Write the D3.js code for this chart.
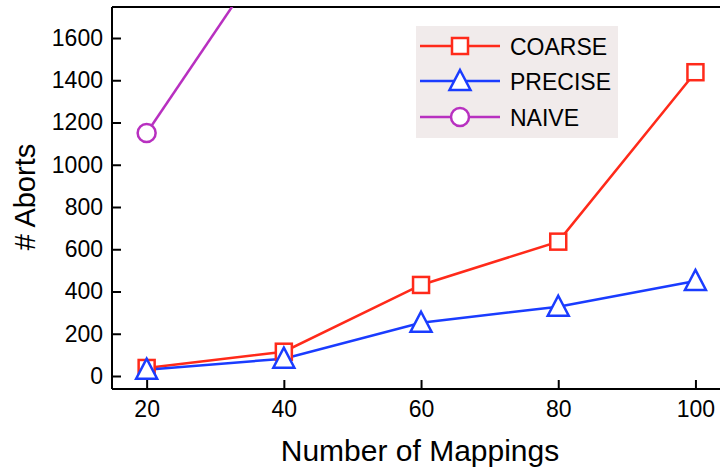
<!DOCTYPE html>
<html><head><meta charset="utf-8">
<script src="https://cdn.jsdelivr.net/npm/d3@7"></script>
<style>body{margin:0;background:#fff}svg{display:block}text{font-family:"Liberation Sans",Arial,sans-serif}</style>
</head><body>
<svg id="c" width="720" height="473"></svg>
<script>
const mappings = [20, 40, 60, 80, 100];
const coarse = [38, 115, 431, 636, 1438];
const precise = [30, 82, 252, 328, 450];
const naive = [1150, 2110];
const xTicks = [20, 40, 60, 80, 100];
const yTicks = [0, 200, 400, 600, 800, 1000, 1200, 1400, 1600];
const seriesNames = ["COARSE", "PRECISE", "NAIVE"];
const seriesColors = ["#ff2a1a", "#1a3cff", "#b830c0"];
const seriesSymbols = ["square", "triangle", "circle"];

const svg = d3.select("#c");
const L = 112, T = 7, B = 389;
const x = d3.scaleLinear().domain([14.95, 106.5]).range([L, L + (106.5-14.95)*6.86]);
const y = d3.scaleLinear().domain([0, 1600]).range([376, 38]);

svg.append("clipPath").attr("id","clip").append("rect").attr("x",L).attr("y",T).attr("width",720-L).attr("height",B-T);

svg.append("line").attr("x1",L).attr("x2",720).attr("y1",T).attr("y2",T).attr("stroke","#000").attr("stroke-width",2);

const xAxis = d3.axisBottom(x).tickValues(xTicks).tickFormat(d3.format("d")).tickSizeInner(-9).tickSizeOuter(0).tickPadding(12);
const gx = svg.append("g").attr("transform",`translate(0,${B})`).call(xAxis);
gx.select(".domain").attr("d",`M${L},0H720`).attr("stroke-width",2);
gx.selectAll(".tick line").attr("stroke-width",2);
gx.selectAll("text").attr("font-size",23).attr("fill","#000");

const yAxis = d3.axisLeft(y).tickValues(yTicks).tickFormat(d3.format("d")).tickSizeInner(-9).tickSizeOuter(0).tickPadding(9);
const gy = svg.append("g").attr("transform",`translate(${L},0)`).call(yAxis);
gy.select(".domain").attr("d",`M0,${T}V${B}`).attr("stroke-width",2);
gy.selectAll(".tick line").attr("stroke-width",2);
gy.selectAll("text").attr("font-size",23).attr("fill","#000");

svg.append("text").attr("x",420).attr("y",461).attr("text-anchor","middle").attr("font-size",30).text("Number of Mappings");
svg.append("text").attr("transform","translate(35,197) rotate(-90)").attr("text-anchor","middle").attr("font-size",29).text("# Aborts");

function marker(g, type, color, cx, cy) {
  if (type === "square") {
    g.append("rect").attr("x",cx-8).attr("y",cy-8).attr("width",16).attr("height",16)
      .attr("fill","#fff").attr("stroke",color).attr("stroke-width",2.5);
  } else if (type === "triangle") {
    g.append("path").attr("d",`M${cx},${cy-11}L${cx+10.5},${cy+9}L${cx-10.5},${cy+9}Z`)
      .attr("fill","#fff").attr("stroke",color).attr("stroke-width",2.5);
  } else {
    g.append("circle").attr("cx",cx).attr("cy",cy).attr("r",9)
      .attr("fill","#fff").attr("stroke",color).attr("stroke-width",2.5);
  }
}

const data = [coarse, precise, naive];
const plot = svg.append("g").attr("clip-path","url(#clip)");
const line = d3.line().x((d,i)=>x(mappings[i])).y(d=>y(d));
[2,0,1].forEach(si => {
  plot.append("path").attr("d", line(data[si])).attr("fill","none")
    .attr("stroke",seriesColors[si]).attr("stroke-width",2.5);
});
[2,0,1].forEach(si => {
  data[si].forEach((v,i) => marker(plot, seriesSymbols[si], seriesColors[si], x(mappings[i]), y(v)));
});

const lg = svg.append("g");
lg.append("rect").attr("x",416).attr("y",26).attr("width",202).attr("height",112).attr("fill","#f1ebeb");
const rowY = [46, 81, 117];
seriesNames.forEach((n,i) => {
  lg.append("line").attr("x1",420).attr("x2",500).attr("y1",rowY[i]).attr("y2",rowY[i])
    .attr("stroke",seriesColors[i]).attr("stroke-width",2.5);
  marker(lg, seriesSymbols[i], seriesColors[i], 460, rowY[i]);
  lg.append("text").attr("x",510).attr("y",rowY[i]+9).attr("font-size",23).text(n);
});
</script>
</body></html>
